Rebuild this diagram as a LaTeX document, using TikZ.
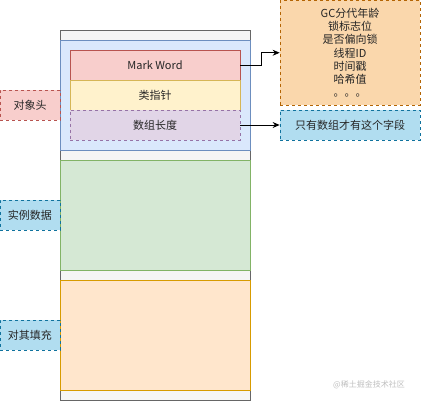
\documentclass[tikz,border=0pt]{standalone}
\usepackage{fontspec}
\setmainfont{Noto Sans CJK SC}
\usetikzlibrary{arrows.meta}
\definecolor{outerF}{HTML}{F5F5F5}\definecolor{outerS}{HTML}{666666}
\definecolor{blueF}{HTML}{DAE8FC}\definecolor{blueS}{HTML}{6C8EBF}
\definecolor{redF}{HTML}{F8CECC}\definecolor{redS}{HTML}{B85450}
\definecolor{yelF}{HTML}{FFF2CC}\definecolor{yelS}{HTML}{D6B656}
\definecolor{purF}{HTML}{E1D5E7}\definecolor{purS}{HTML}{9673A6}
\definecolor{grnF}{HTML}{D5E8D4}\definecolor{grnS}{HTML}{82B366}
\definecolor{orgF}{HTML}{FFE6CC}\definecolor{orgS}{HTML}{D79B00}
\definecolor{cyanF}{HTML}{B1DDF0}\definecolor{cyanS}{HTML}{10739E}
\definecolor{gcF}{HTML}{FAD7AC}\definecolor{gcS}{HTML}{B46504}
\begin{document}
\begin{tikzpicture}[x=1pt,y=-1pt,
  box/.style={draw, line width=0.75pt, inner sep=0pt, anchor=center,
    font=\fontsize{11}{13.3}\selectfont, text=black!85},
  dsh/.style={dash pattern=on 3pt off 3pt},
  arr/.style={line width=0.75pt, -{Stealth[length=7pt,width=6pt]}}]
\useasboundingbox (0,0) rectangle (421,401);
\node[box, fill=outerF, draw=outerS, minimum width=190pt, minimum height=370pt] (outer) at (155,215) {};
\node[box, fill=blueF, draw=blueS, minimum width=190pt, minimum height=110pt] (head) at (155,95) {};
\node[box, fill=redF, draw=redS, minimum width=170pt, minimum height=30pt] (mw) at (155,65) {Mark Word};
\node[box, fill=yelF, draw=yelS, minimum width=170pt, minimum height=30pt] (kp) at (155,95) {类指针};
\node[box, fill=purF, draw=purS, dsh, minimum width=170pt, minimum height=30pt] (len) at (155,125) {数组长度};
\node[box, fill=grnF, draw=grnS, minimum width=190pt, minimum height=110pt] (inst) at (155,215) {};
\node[box, fill=orgF, draw=orgS, minimum width=190pt, minimum height=110pt] (pad) at (155,335) {};
\node[box, fill=redF, draw=redS, dsh, minimum width=60pt, minimum height=30pt] (lhead) at (30,105) {对象头};
\node[box, fill=cyanF, draw=cyanS, dsh, minimum width=60pt, minimum height=30pt] (linst) at (30,215) {实例数据};
\node[box, fill=cyanF, draw=cyanS, dsh, minimum width=60pt, minimum height=30pt] (lpad) at (30,335) {对其填充};
\node[box, fill=gcF, draw=gcS, dsh, minimum width=140pt, minimum height=104.5pt, align=center] (gc) at (350,52.75)
  {GC分代年龄\\锁标志位\\是否偏向锁\\线程ID\\时间戳\\哈希值\\。。。};
\node[box, fill=cyanF, draw=cyanS, dsh, minimum width=140pt, minimum height=30pt] (only) at (350,125) {只有数组才有这个字段};
\draw[arr] (mw.east) -- ++(21,0) |- (gc.west);
\draw[arr] (len.east) -- (only.west);
\node[font=\fontsize{8}{9}\selectfont, text=black!25] (wm) at (369,385) {@稀土掘金技术社区};
\end{tikzpicture}
\end{document}
